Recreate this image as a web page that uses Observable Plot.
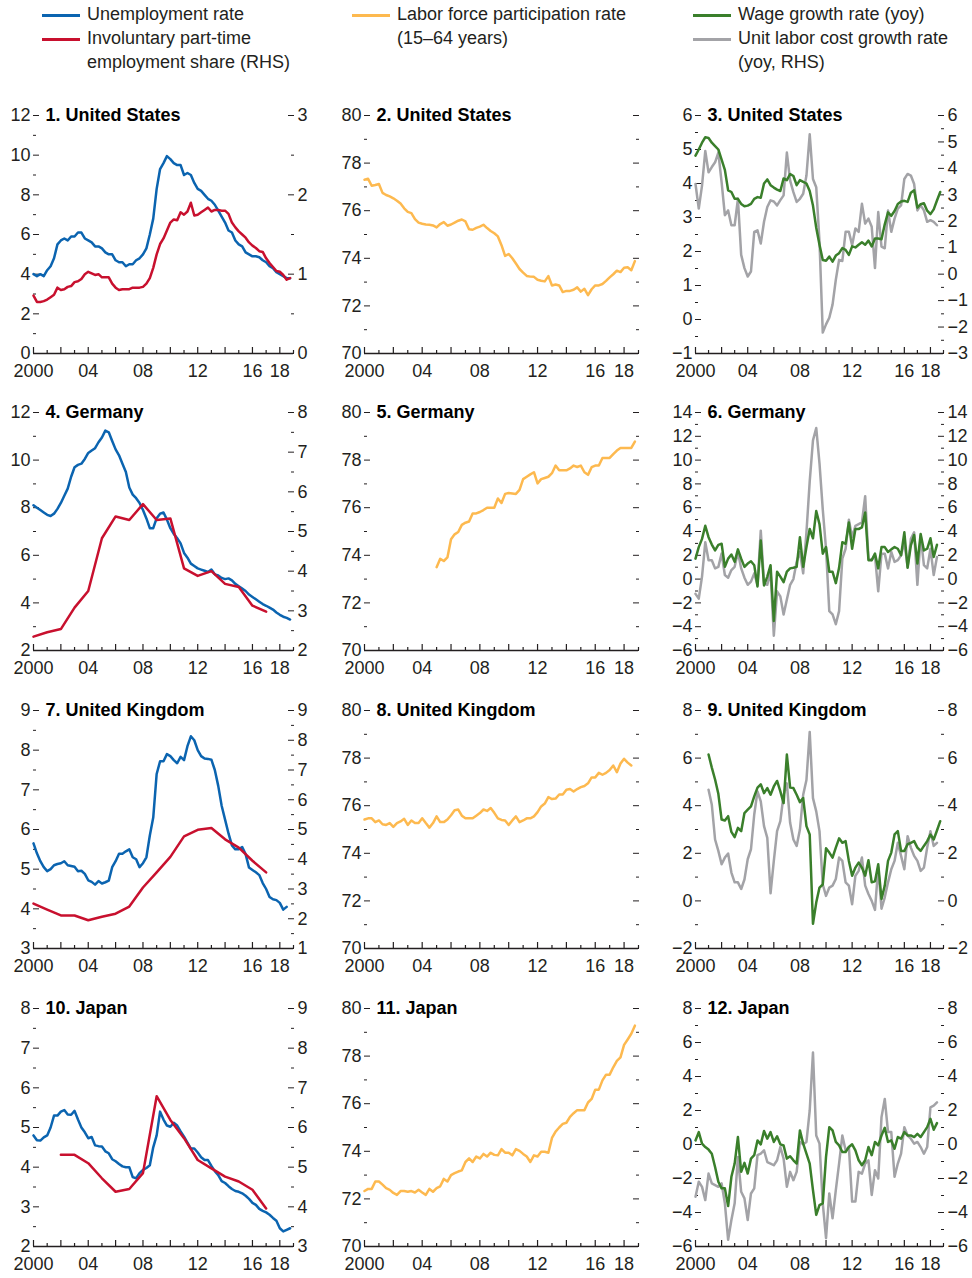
<!DOCTYPE html>
<html><head><meta charset="utf-8">
<script src="https://cdn.jsdelivr.net/npm/d3@7"></script>
<script src="https://cdn.jsdelivr.net/npm/@observablehq/plot@0.6"></script>
<style>
body{margin:0;background:#fff;}
#root{position:relative;width:972px;height:1278px;overflow:hidden;font-family:"Liberation Sans",Arial,sans-serif;color:#231f20;}
.panel{position:absolute;}
.leg{position:absolute;font-size:18px;line-height:23.5px;white-space:nowrap;}
.sw{position:absolute;height:3px;width:38px;}
</style></head><body><div id="root"></div>
<script>
// ---------- colours ----------
const cBlue = "#0b64b0", cRed = "#c8102e", cOrange = "#fdb94f", cGreen = "#3a7f2b", cGray = "#a3a3a7";

// ---------- x axis ----------
const xLabelYears = [2000, 2004, 2008, 2012, 2016, 2018];
const xLabels = ["2000", "04", "08", "12", "16", "18"];
const xMajorYears = [2000, 2002, 2004, 2006, 2008, 2010, 2012, 2014, 2016, 2018];
const xMinorYears = [2001, 2003, 2005, 2007, 2009, 2011, 2013, 2015, 2017, 2019];

// ---------- column 1: unemployment (quarterly from 2000) and involuntary part-time (RHS) ----------
const usUnemp = [4.0,3.9,4.0,3.9, 4.2,4.4,4.8,5.5, 5.7,5.8,5.7,5.9, 5.9,6.1,6.1,5.8, 5.7,5.6,5.4,5.4, 5.3,5.1,5.0,5.0, 4.7,4.6,4.6,4.4, 4.5,4.5,4.7,4.8, 5.0,5.3,6.0,6.8, 8.3,9.3,9.6,9.95, 9.8,9.6,9.5,9.5, 9.0,9.1,9.0,8.6, 8.3,8.2,8.0,7.8, 7.7,7.5,7.2,6.9, 6.6,6.2,6.1,5.7, 5.5,5.4,5.1,5.0, 4.9,4.9,4.85,4.7, 4.6,4.4,4.3,4.1, 4.0,3.9,3.8,3.8];
const usInvPT = [0.73,0.65,0.65,0.66, 0.68,0.71,0.74,0.83, 0.80,0.81,0.84,0.85, 0.90,0.91,0.94,1.00, 1.03,1.01,0.99,1.00, 0.96,0.96,0.96,0.88, 0.83,0.80,0.81,0.81, 0.81,0.83,0.83,0.83, 0.84,0.88,0.95,1.08, 1.25,1.38,1.45,1.55, 1.65,1.69,1.68,1.78, 1.75,1.79,1.90,1.74, 1.75,1.78,1.81,1.84, 1.79,1.81,1.81,1.80, 1.80,1.76,1.65,1.59, 1.54,1.50,1.46,1.40, 1.36,1.33,1.29,1.28, 1.20,1.14,1.09,1.04, 1.03,0.99,0.93,0.95];
const deUnemp = [8.1,8.0,7.9,7.8, 7.7,7.65,7.75,7.95, 8.2,8.5,8.8,9.3, 9.7,9.8,9.85,10.05, 10.3,10.4,10.5,10.75, 10.95,11.24,11.17,10.8, 10.45,10.2,9.85,9.5, 8.85,8.55,8.4,8.2, 7.9,7.55,7.14,7.14, 7.56,7.75,7.8,7.5, 7.14,6.9,6.72,6.5, 6.1,5.9,5.65,5.55, 5.45,5.4,5.35,5.3, 5.4,5.2,5.15,5.05, 5.0,5.03,4.95,4.8, 4.7,4.6,4.5,4.35, 4.25,4.15,4.05,3.95, 3.88,3.8,3.72,3.6, 3.5,3.42,3.37,3.3];
const deInvPT = [2.35,2.46,2.54,3.08,3.5,4.83,5.38,5.29,5.69,5.29,5.33,4.07,3.88,4.0,3.68,3.6,3.13,2.98]; // annual 2000-2017
const ukUnemp = [5.65,5.4,5.2,5.05, 4.95,5.0,5.1,5.13, 5.15,5.2,5.1,5.08, 5.06,4.95,4.96,4.88, 4.72,4.68,4.61,4.7, 4.64,4.67,4.71,5.05, 5.2,5.39,5.39,5.45, 5.5,5.3,5.25,5.05, 5.15,5.3,5.85,6.3, 7.4,7.72,7.72,7.9, 7.85,7.75,7.67,7.83, 7.75,8.1,8.35,8.25, 8.0,7.85,7.79,7.78, 7.76,7.5,7.1,6.6, 6.25,5.9,5.6,5.5, 5.5,5.56,5.38,5.04, 4.98,4.92,4.85,4.65, 4.5,4.3,4.24,4.22, 4.15,3.98,4.05];
const ukInvPT = [2.51,2.31,2.11,2.11,1.95,2.07,2.17,2.41,3.05,3.56,4.08,4.77,4.99,5.05,4.67,4.39,3.95,3.56]; // annual 2000-2017
const jpUnemp = [4.8,4.68,4.67,4.75, 4.8,5.0,5.3,5.3, 5.4,5.44,5.33,5.32, 5.42,5.2,5.0,4.88, 4.73,4.76,4.55,4.53, 4.52,4.4,4.35,4.2, 4.15,4.08,4.02,4.0, 4.0,3.75,3.72,3.85, 3.93,3.98,4.05,4.5, 4.8,5.4,5.2,5.05, 5.02,5.12,5.05,4.9, 4.77,4.62,4.47,4.47, 4.37,4.25,4.18,4.18, 4.03,3.9,3.8,3.65, 3.6,3.52,3.45,3.4, 3.38,3.34,3.28,3.2, 3.1,3.05,2.95,2.9, 2.86,2.8,2.72,2.65, 2.46,2.38,2.42,2.46];
const jpInvPT = [5.31,5.31,5.1,4.72,4.38,4.45,4.85,6.79,6.19,5.73,5.18,4.97,4.76,4.64,4.43,3.96]; // annual 2002-2017

// ---------- column 2: labour force participation (quarterly) ----------
const usLFPR = [77.3,77.34,77.05,77.08, 77.12,76.75,76.66,76.6, 76.52,76.42,76.3,76.1, 75.95,75.9,75.65,75.5, 75.45,75.42,75.41,75.38, 75.3,75.44,75.52,75.37, 75.42,75.5,75.58,75.63, 75.55,75.22,75.2,75.28, 75.33,75.41,75.27,75.15, 75.05,74.92,74.55,74.1, 74.18,74.0,73.78,73.55, 73.4,73.26,73.23,73.22, 73.1,73.06,73.03,73.25, 72.86,72.9,72.86,72.58, 72.63,72.63,72.68,72.78, 72.6,72.72,72.45,72.7, 72.86,72.86,72.92,73.05, 73.2,73.33,73.48,73.42, 73.6,73.62,73.5,73.88];
const deLFPR = [73.5,73.85,73.76,73.91, 74.67,74.88,74.98,75.28, 75.37,75.42,75.76,75.76, 75.82,75.9,76.0,76.0, 76.0,76.39,76.2,76.58, 76.62,76.6,76.58,76.75, 77.2,77.3,77.4,77.49, 77.02,77.2,77.25,77.3, 77.45,77.77,77.57,77.57, 77.57,77.65,77.77,77.71, 77.77,77.49,77.38,77.7, 77.77,77.77,78.09,78.09, 78.09,78.25,78.4,78.51, 78.51,78.51,78.51,78.78]; // from 2005
const ukLFPR = [75.42,75.47,75.47,75.31, 75.38,75.22,75.19,75.27, 75.11,75.27,75.34,75.45, 75.19,75.38,75.27,75.27, 75.47,75.27,75.08,75.27, 75.55,75.31,75.31,75.42, 75.6,75.81,75.84,75.58, 75.47,75.47,75.47,75.58, 75.69,75.84,75.78,75.9, 75.7,75.47,75.4,75.38, 75.19,75.38,75.55,75.31, 75.38,75.47,75.47,75.55, 75.73,75.97,76.09,76.36, 76.28,76.3,76.47,76.47, 76.67,76.7,76.6,76.7, 76.78,76.83,76.94,77.19, 77.19,77.38,77.3,77.38, 77.5,77.69,77.41,77.77, 77.97,77.81,77.69];
const jpLFPR = [72.33,72.42,72.42,72.73, 72.73,72.6,72.45,72.38, 72.25,72.17,72.33,72.33, 72.3,72.33,72.27,72.38, 72.27,72.17,72.42,72.3, 72.45,72.53,72.84,72.73, 73.0,73.08,73.15,73.2, 73.55,73.7,73.55,73.78, 73.7,73.89,73.78,73.94, 73.85,73.83,74.09,73.94, 73.94,73.83,74.09,74.02, 73.89,73.78,73.55,73.83, 73.78,73.98,73.98,73.94, 74.56,74.83,75.0,75.15, 75.2,75.45,75.6,75.73, 75.73,75.73,76.05,76.2, 76.59,76.59,76.98,77.22, 77.22,77.53,77.8,77.95, 78.47,78.7,78.94,79.28];

// ---------- column 3: wage growth and unit labour cost growth (RHS), quarterly ----------
const usWage = [4.82,5.0,5.2,5.36, 5.34,5.2,5.1,5.0, 4.7,4.4,3.8,3.75, 3.55,3.55,3.4,3.33, 3.35,3.4,3.55,3.6, 3.58,4.0,4.12,3.95, 3.88,3.82,3.78,4.15, 4.1,4.28,4.22,3.95, 4.1,4.05,4.0,3.78, 3.35,2.7,2.2,1.75, 1.73,1.85,1.7,1.88, 1.95,2.1,2.05,1.9, 2.15,2.12,2.2,2.27, 2.2,2.32,2.15,2.38, 2.38,2.36,2.8,3.15, 3.05,3.19,3.4,3.47, 3.49,3.46,3.73,3.8, 3.29,3.39,3.42,3.2, 3.1,3.24,3.5,3.75];
const usULC = [3.41,2.48,3.35,4.66, 3.85,4.05,4.23,4.6, 3.48,2.23,2.41,1.85, 1.85,2.85,0.73,0.23, -0.09,0.1,1.6,1.66, 1.16,1.98,2.54,2.79, 2.75,2.6,2.8,2.98, 4.6,3.54,3.1,2.73, 2.85,3.04,3.73,5.29, 3.6,3.29,1.23,-2.21, -1.9,-1.65,-1.15,-0.21, 0.54,0.5,1.6,1.6, 1.1,1.73,1.6,2.66, 1.91,2.1,1.79,0.23, 2.35,1.04,0.98,2.41, 1.6,2.1,2.48,2.6, 3.6,3.79,3.73,3.41, 2.41,2.6,2.41,1.98, 2.04,1.98,1.85];
const deWage = [1.72,2.69,3.38,4.48, 3.52,2.9,2.41,2.88, 2.97,1.03,1.72,2.06, 1.45,2.5,1.72,1.03, 1.31,1.5,1.17,-0.62, 3.24,-0.54,0.21,1.17, -3.52,0.62,0.21,-0.26, 0.62,0.9,0.95,1.03, 3.52,1.03,2.69,4.21, 3.43,5.72,4.62,2.14, 2.69,0.62,0.62,-0.34, 0.95,3.1,2.97,4.76, 2.55,4.21,4.21,4.34, 5.59,1.59,1.59,2.14, 0.9,2.69,2.69,2.28, 2.5,2.69,2.55,2.0, 3.93,0.95,2.83,3.71, 1.31,3.79,2.41,2.55, 3.43,1.86,2.88];
const deULC = [-1.24,-1.64,0.21,3.1, 1.59,1.59,0.9,1.03, 2.14,0.34,0.12,0.76, 1.03,2.28,0.9,0.12, -0.48,-0.21,0.48,-0.48, 4.07,-0.34,-0.48,0.62, -4.76,-1.03,-1.45,-2.97, -1.72,-0.48,0.0,1.45, 2.28,0.48,3.93,8.21, 11.66,12.7,9.72,5.86, 2.55,-2.69,-2.97,-3.79, -2.69,1.72,2.55,4.98, 3.52,4.48,4.62,4.76, 6.97,1.72,1.59,2.0, -1.03,2.14,2.14,0.9, 2.28,1.45,1.59,2.0, 3.1,1.03,3.38,3.93, -0.48,3.66,1.17,0.9, 2.55,0.34,1.86];
const ukWage = [6.15,5.6,5.1,4.5, 3.42,3.38,3.56,2.9, 2.68,3.07,2.93,3.69, 3.83,3.97,4.39,4.76, 4.9,4.53,4.74,4.46, 4.81,5.04,4.6,4.11, 6.15,4.76,4.74,4.46, 4.15,4.32,3.14,2.79, -0.96,-0.07,0.56,0.69, 2.21,2.03,1.82,2.24, 2.63,2.44,2.51,1.68, 1.06,1.4,1.61,1.4, 1.06,1.71,0.78,0.82, 1.54,0.08,0.64,1.68, 2.03,2.79,2.93,2.1, 2.1,2.38,2.44,2.51, 2.24,2.1,2.31,2.51, 2.79,2.58,2.96,3.35]; // from 2001
const ukULC = [4.67,4.04,2.58,2.1, 1.54,1.82,1.99,1.19, 0.78,0.78,0.5,0.9, 1.75,2.17,3.63,4.6, 4.18,3.14,2.65,0.32, 1.68,2.93,3.35,4.46, 4.94,3.28,2.58,2.31, 3.0,4.46,5.08,7.1, 4.32,3.76,2.93,0.69, 0.21,0.56,0.64,0.92, 1.82,1.68,0.78,0.64, -0.14,1.06,1.26,1.82, 0.64,0.29,0.0,-0.38, 1.4,-0.33,0.15,0.78, 1.33,1.68,2.44,1.89, 1.33,2.72,2.24,1.89, 1.68,1.26,1.4,2.24, 2.93,2.31,2.44]; // from 2001
const jpWage = [0.24,0.73,0.05,-0.15, -0.3,-0.54,-1.32,-2.19, -2.58,-2.58,-3.62,-1.9, -1.12,0.44,-1.61,-1.08, -1.71,-0.83,-0.63,0.24, 0.01,0.79,0.34,0.73, 0.15,0.48,0.01,-0.06, -0.83,-0.69,-0.93,-1.12, 0.83,0.05,-0.54,-1.12, -2.68,-4.14,-3.56,-3.46, -0.73,1.02,0.83,0.15, -0.05,-0.44,-0.44,-0.15, 0.01,-0.34,-0.93,-1.22, -0.93,-0.15,-0.63,0.15, -0.05,0.53,0.98,0.15, 0.24,-0.25,0.44,0.34, 0.73,0.53,0.53,0.44, 0.63,0.44,0.73,1.02, 1.51,0.87,1.26];
const jpULC = [-3.07,-2.19,-2.49,-3.27, -1.71,-2.29,-2.39,-2.49, -2.29,-3.46,-5.61,-4.44, -3.46,-0.73,-2.78,-3.17, -4.44,-2.88,-2.58,-0.63, -0.54,-0.34,-1.03,-1.12, -1.22,-0.93,-0.15,-0.83, -2.49,-1.61,-2.1,-1.61, 0.15,0.01,0.15,2.0, 5.41,0.53,0.05,-3.46, -5.51,-2.88,-4.34,-2.68, -1.12,0.53,-0.34,-0.15, -3.36,-3.36,-1.61,-1.71, -1.12,-0.93,-2.97,-1.51, -2.0,1.61,2.68,0.73, 0.73,-1.9,-1.12,-0.54, 1.02,0.53,0.34,0.05, 0.15,-0.15,-0.54,-0.15, 2.19,2.29,2.48];

// ---------- titles and axis ranges ----------
const titles = ["1. United States","2. United States","3. United States","4. Germany","5. Germany","6. Germany","7. United Kingdom","8. United Kingdom","9. United Kingdom","10. Japan","11. Japan","12. Japan"];
const leftRanges = [[0,12],[70,80],[-1,6],[2,12],[70,80],[-6,14],[3,9],[70,80],[-2,8],[2,8],[70,80],[-6,8]];
const leftSteps  = [2,2,1,2,2,2,1,2,2,1,2,2];
const rightRanges = [[0,3],[70,80],[-3,6],[2,8],[70,80],[-6,14],[1,9],[70,80],[-2,8],[3,9],[70,80],[-6,8]];
const rightSteps  = [1,2,1,1,2,2,1,2,2,1,2,2];
const rightLabelled = [true,false,true,true,false,true,true,false,true,true,false,true];

// ---------- helpers ----------
const quarterly = (start, arr) => arr.map((v, i) => ({x: start + i / 4, y: v}));
const annual = (start, arr) => arr.map((v, i) => ({x: start + i, y: v}));
const range = (a, b, s) => d3.range(a, b + s / 2, s).map(v => Math.round(v * 100) / 100);
const fmt = d => { const r = Math.round(d * 10) / 10; return Math.abs(r) < 1e-9 ? "0" : (r < 0 ? "\u2212" + Math.abs(r) : String(r)); };

const seriesByPanel = [
  [{d: quarterly(2000, usUnemp), c: cBlue}, {d: quarterly(2000, usInvPT), c: cRed, rhs: true}],
  [{d: quarterly(2000, usLFPR), c: cOrange}],
  [{d: quarterly(2000, usULC), c: cGray, rhs: true}, {d: quarterly(2000, usWage), c: cGreen}],
  [{d: quarterly(2000, deUnemp), c: cBlue}, {d: annual(2000, deInvPT), c: cRed, rhs: true}],
  [{d: quarterly(2005, deLFPR), c: cOrange}],
  [{d: quarterly(2000, deULC), c: cGray, rhs: true}, {d: quarterly(2000, deWage), c: cGreen}],
  [{d: quarterly(2000, ukUnemp), c: cBlue}, {d: annual(2000, ukInvPT), c: cRed, rhs: true}],
  [{d: quarterly(2000, ukLFPR), c: cOrange}],
  [{d: quarterly(2001, ukULC), c: cGray, rhs: true}, {d: quarterly(2001, ukWage), c: cGreen}],
  [{d: quarterly(2000, jpUnemp), c: cBlue}, {d: annual(2002, jpInvPT), c: cRed, rhs: true}],
  [{d: quarterly(2000, jpLFPR), c: cOrange}],
  [{d: quarterly(2000, jpULC), c: cGray, rhs: true}, {d: quarterly(2000, jpWage), c: cGreen}]
];

// layout
const cols = [{left: 0, width: 330, mL: 33, mR: 37}, {left: 330, width: 330, mL: 34, mR: 22}, {left: 660, width: 312, mL: 35, mR: 29}];
const rowTops = [95, 392, 690, 988];
const H = 298, mT = 20, mB = 40;
const fontFam = '"Liberation Sans",Arial,sans-serif';
const root = document.getElementById("root");

for (let p = 0; p < 12; p++) {
  const col = cols[p % 3], top = rowTops[Math.floor(p / 3)];
  const yDom = leftRanges[p], rDom = rightRanges[p];
  const toL = r => yDom[0] + (r - rDom[0]) * (yDom[1] - yDom[0]) / (rDom[1] - rDom[0]);
  const fromL = l => rDom[0] + (l - yDom[0]) * (rDom[1] - rDom[0]) / (yDom[1] - yDom[0]);
  const ls = leftSteps[p], rs = rightSteps[p];
  const yMajor = range(yDom[0], yDom[1], ls);
  const yMinor = range(yDom[0] + ls / 2, yDom[1] - ls / 2, ls);
  const rMajor = range(rDom[0], rDom[1], rs).map(toL);
  const rMinor = range(rDom[0] + rs / 2, rDom[1] - rs / 2, rs).map(toL);
  const marks = [
    Plot.ruleY([yDom[0]], {stroke: "#231f20", strokeWidth: 1.3}),
    Plot.axisX({ticks: xMajorYears, tickSize: -6, tickFormat: () => "", label: null, strokeWidth: 1.2}),
    Plot.axisX({ticks: xMinorYears, tickSize: -3, tickFormat: () => "", label: null, strokeWidth: 1.2}),
    Plot.axisX({ticks: xLabelYears, tickSize: 0, tickPadding: 11, label: null, tickFormat: d => xLabels[xLabelYears.indexOf(d)], fontSize: 18}),
    Plot.axisY({anchor: "left", ticks: yMajor, tickSize: -6, tickFormat: () => "", label: null}),
    Plot.axisY({anchor: "left", ticks: yMinor, tickSize: -3, tickFormat: () => "", label: null}),
    Plot.axisY({anchor: "left", ticks: yMajor, tickSize: 0, tickPadding: 3, tickFormat: fmt, label: null, fontSize: 18}),
    Plot.axisY({anchor: "right", ticks: rMajor, tickSize: -6, tickFormat: () => "", label: null}),
    Plot.axisY({anchor: "right", ticks: rMinor, tickSize: -3, tickFormat: () => "", label: null})
  ];
  if (rightLabelled[p]) marks.push(Plot.axisY({anchor: "right", ticks: rMajor, tickSize: 0, tickPadding: 4, tickFormat: d => fmt(fromL(d)), label: null, fontSize: 18}));
  for (const s of seriesByPanel[p]) {
    marks.push(Plot.line(s.d, {x: "x", y: s.rhs ? (d => toL(d.y)) : "y", stroke: s.c, strokeWidth: 2.5, strokeLinejoin: "round"}));
  }
  marks.push(Plot.text([titles[p]], {frameAnchor: "top-left", dx: 12, textAnchor: "start", lineAnchor: "middle", fontWeight: "bold", fontSize: 18, fill: "#000"}));
  const svg = Plot.plot({
    width: col.width, height: H,
    marginLeft: col.mL, marginRight: col.mR, marginTop: mT, marginBottom: mB,
    x: {type: "linear", domain: [2000, 2019], label: null},
    y: {domain: yDom, label: null},
    style: {fontFamily: fontFam, fontSize: "18px", color: "#231f20", background: "transparent", overflow: "visible"},
    marks
  });
  svg.classList.add("panel");
  svg.style.left = col.left + "px";
  svg.style.top = top + "px";
  root.appendChild(svg);
}

// ---------- legend ----------
const legendItems = [
  {x: 42, y: 15, c: cBlue, lines: ["Unemployment rate"]},
  {x: 42, y: 39, c: cRed, lines: ["Involuntary part-time", "employment share (RHS)"]},
  {x: 352, y: 15, c: cOrange, lines: ["Labor force participation rate", "(15\u201364 years)"]},
  {x: 693, y: 15, c: cGreen, lines: ["Wage growth rate (yoy)"]},
  {x: 693, y: 39, c: cGray, lines: ["Unit labor cost growth rate", "(yoy, RHS)"]}
];
for (const it of legendItems) {
  const sw = document.createElement("div");
  sw.className = "sw"; sw.style.background = it.c;
  sw.style.left = it.x + "px"; sw.style.top = (it.y - 1.5) + "px";
  root.appendChild(sw);
  const t = document.createElement("div");
  t.className = "leg";
  t.style.left = (it.x + 45) + "px"; t.style.top = (it.y - 12) + "px";
  t.innerHTML = it.lines.join("<br>");
  root.appendChild(t);
}
</script></body></html>
